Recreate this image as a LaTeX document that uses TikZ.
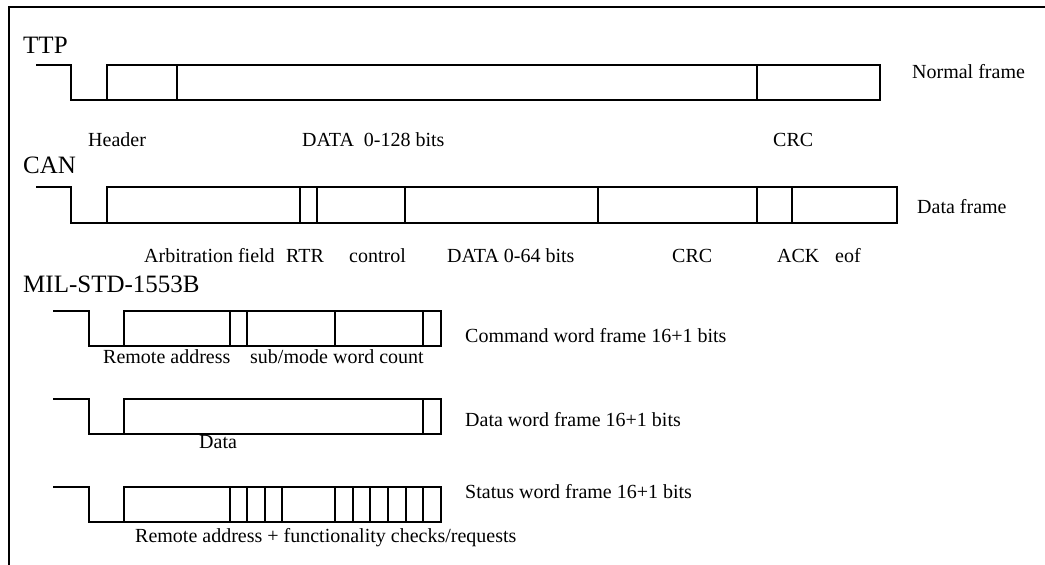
\documentclass[tikz,border=0pt]{standalone}
\usepackage{fontspec}
\setmainfont{Liberation Serif}
\begin{document}
\begin{tikzpicture}[x=1pt,y=-1pt,
  wave/.style={line width=1.4pt},
  frameline/.style={line width=2.2pt},
  lbl/.style={anchor=base west,inner sep=0pt,font=\fontsize{20}{24}\selectfont},
  head/.style={anchor=base west,inner sep=0pt,font=\fontsize{25}{30}\selectfont}]
\useasboundingbox (0,0) rectangle (1045,565);
\draw[frameline] (1045,7) -- (9,7) -- (9,565);

% ---------------- TTP ----------------
\node[head] (ttp) at (23,53) {TTP};
\draw[wave] (36,65) -| (71,100) -- (107,100);
\draw[wave] (107,65) rectangle (880,100);
\foreach \x in {177,757} \draw[wave] (\x,65) -- (\x,100);
\node[lbl] (ttpnorm) at (912,78) {Normal frame};
\node[lbl] (ttphdr) at (88,146) {Header};
\node[lbl] (ttpdata) at (302,146) {DATA\ \ 0-128 bits};
\node[lbl] (ttpcrc) at (773,146) {CRC};

% ---------------- CAN ----------------
\node[head] (can) at (23,173) {CAN};
\draw[wave] (36,187) -| (71,223) -- (107,223);
\draw[wave] (107,187) rectangle (897,223);
\foreach \x in {300,317,405,598,757,792} \draw[wave] (\x,187) -- (\x,223);
\node[lbl] (candf) at (917,213) {Data frame};
\node[lbl] (canarb) at (144,262) {Arbitration field};
\node[lbl] (canrtr) at (286,262) {RTR};
\node[lbl] (canctl) at (349,262) {control};
\node[lbl] (candata) at (447,262) {DATA 0-64 bits};
\node[lbl] (cancrc) at (672,262) {CRC};
\node[lbl] (canack) at (777,262) {ACK};
\node[lbl] (caneof) at (835,262) {eof};

% ---------------- MIL-STD-1553B ----------------
\node[head] (mil) at (23,292) {MIL-STD-1553B};

% Command word
\draw[wave] (53,311) -| (89,346) -- (124,346);
\draw[wave] (124,311) rectangle (441,346);
\foreach \x in {230,247,335,423} \draw[wave] (\x,311) -- (\x,346);
\node[lbl] (cmdtxt) at (465,342) {Command word frame 16+1 bits};
\node[lbl] (cmdra) at (103,363) {Remote address};
\node[lbl] (cmdsub) at (250,363) {sub/mode};
\node[lbl] (cmdwc) at (333,363) {word count};

% Data word
\draw[wave] (53,399) -| (89,434) -- (124,434);
\draw[wave] (124,399) rectangle (441,434);
\draw[wave] (423,399) -- (423,434);
\node[lbl] (dattxt) at (465,426) {Data word frame 16+1 bits};
\node[lbl] (datlbl) at (199,448) {Data};

% Status word
\draw[wave] (53,487) -| (89,522) -- (124,522);
\draw[wave] (124,487) rectangle (441,522);
\foreach \x in {230,247,265,282,335,353,370,388,406,423} \draw[wave] (\x,487) -- (\x,522);
\node[lbl] (stattxt) at (465,498) {Status word frame 16+1 bits};
\node[lbl] (statlbl) at (135,542) {Remote address + functionality checks/requests};
\end{tikzpicture}
\end{document}
